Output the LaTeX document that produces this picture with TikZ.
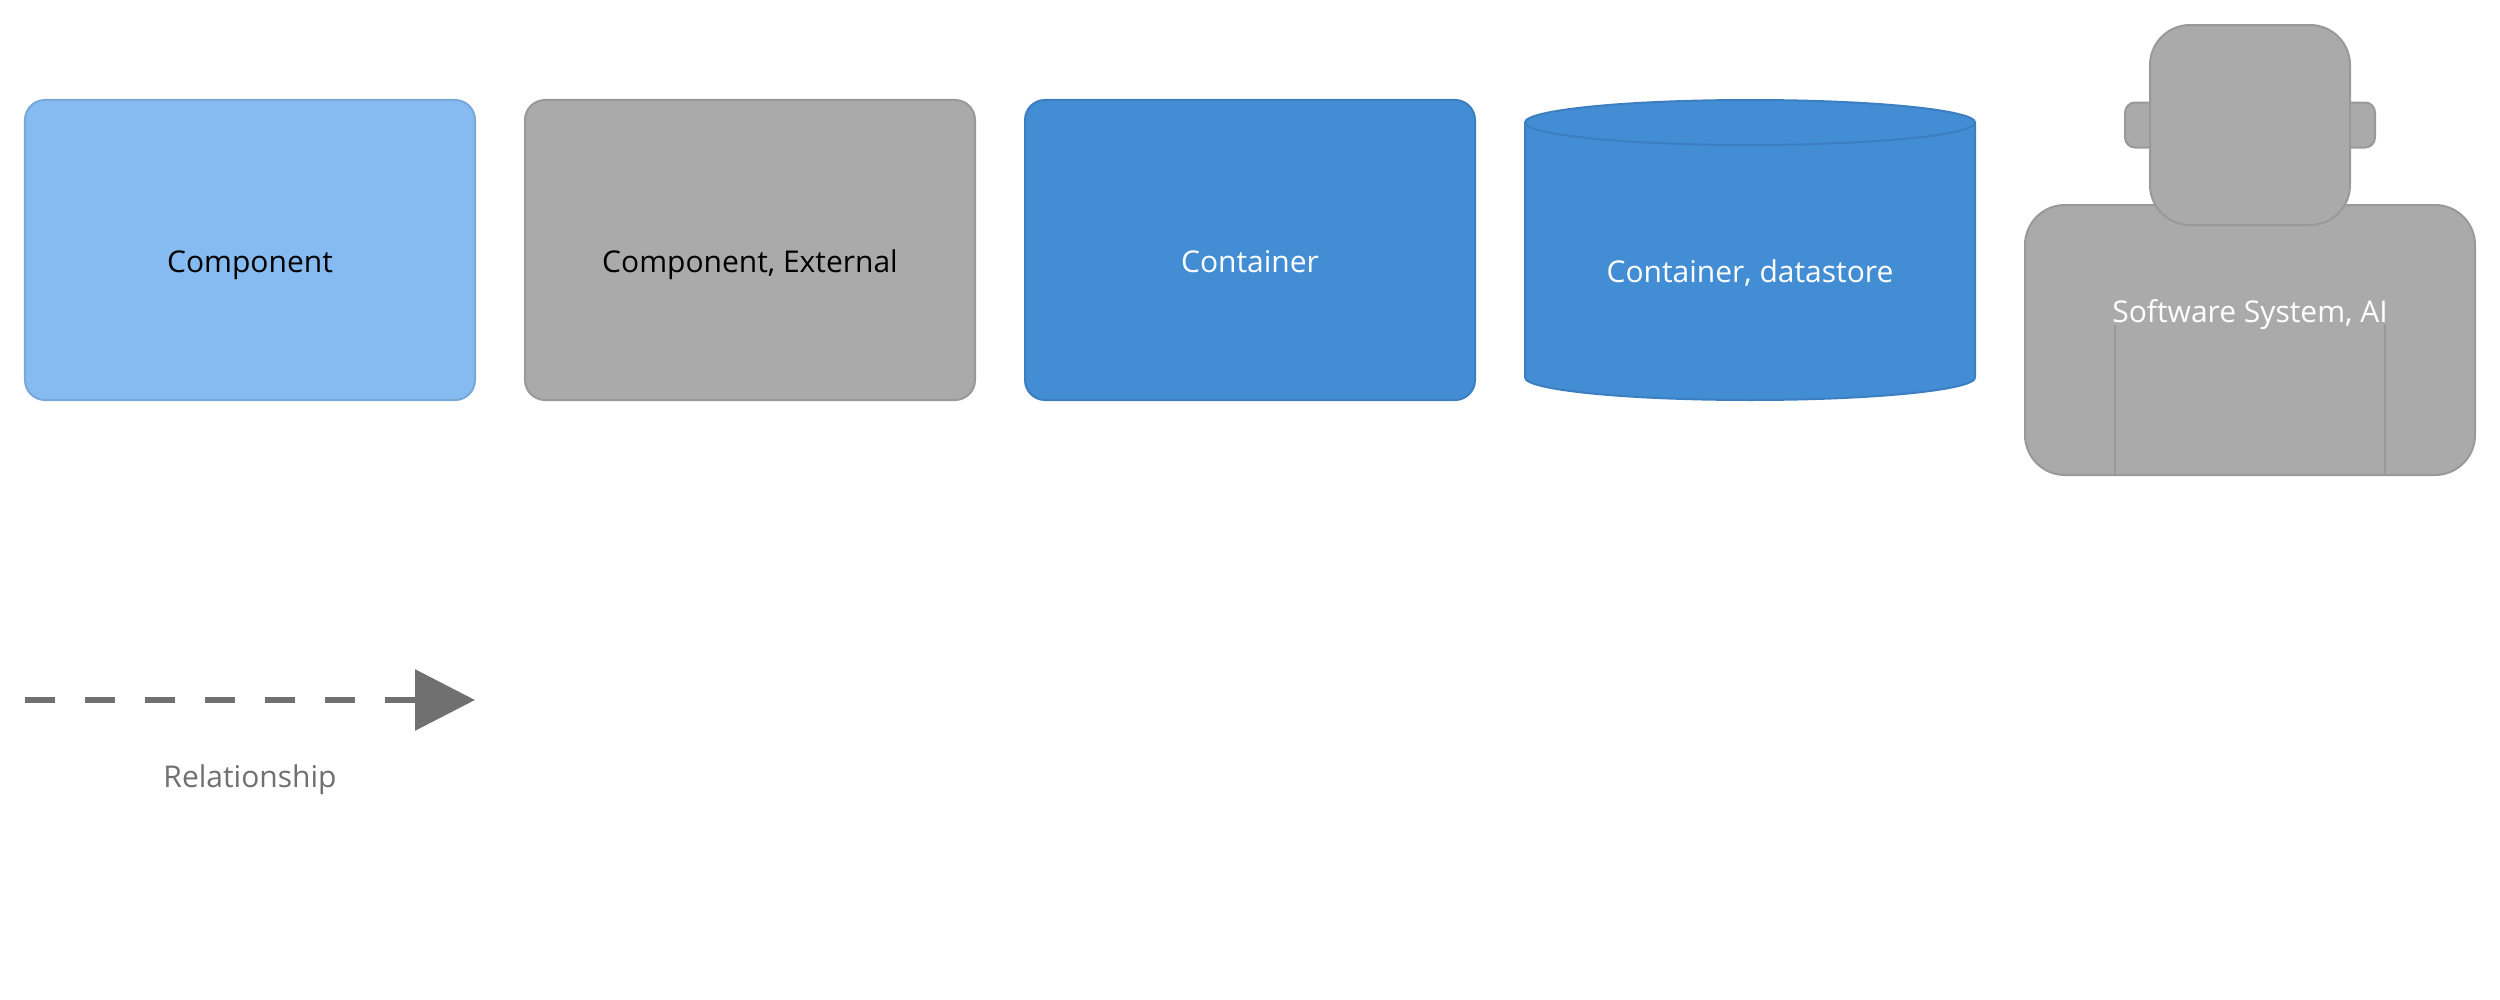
\documentclass[tikz,border=0pt]{standalone}
\usepackage{fontspec}
\setmainfont{Open Sans}
\usetikzlibrary{arrows.meta}
\definecolor{compfill}{HTML}{85BBF0}
\definecolor{compline}{HTML}{78A8D8}
\definecolor{extfill}{HTML}{AAAAAA}
\definecolor{extline}{HTML}{999999}
\definecolor{contfill}{HTML}{438DD5}
\definecolor{contline}{HTML}{3C7FC0}
\definecolor{relcolor}{HTML}{707070}
\tikzset{
  card/.style={rectangle,rounded corners=8pt,minimum width=180pt,minimum height=120pt,inner sep=0pt,line width=0.8pt},
  compcard/.style={card,fill=compfill,draw=compline},
  extcard/.style={card,fill=extfill,draw=extline},
  contcard/.style={card,fill=contfill,draw=contline},
  caption/.style={anchor=base,inner sep=0pt,font=\fontsize{12pt}{14pt}\selectfont},
  robot/.style={fill=extfill,draw=extline,line width=0.8pt},
  cyl/.style={fill=contfill,draw=contline,line width=0.8pt},
  rel/.style={draw=relcolor,line width=2.4pt,dash pattern=on 12pt off 12pt,-{Triangle[length=24pt,width=24pt,fill=relcolor]}},
}
\begin{document}
\begin{tikzpicture}[x=0.4pt,y=-0.4pt]
\useasboundingbox (0,0) rectangle (2500,1000);
% rounded cards
\node[compcard] (component) at (250,250) {};
\node[extcard] (external) at (750,250) {};
\node[contcard] (container) at (1250,250) {};
\node[caption,text=black] (componentText) at (250,272) {Component};
\node[caption,text=black] (externalText) at (750,272) {Component, External};
\node[caption,text=white] (containerText) at (1250,272) {Container};
% datastore
\path[cyl] (1525,122.5) arc[start angle=180,end angle=360,x radius=225,y radius=22.5]
  -- (1975,377.5) arc[start angle=0,end angle=180,x radius=225,y radius=22.5] -- cycle;
\draw[contline,line width=0.8pt] (1525,122.5) arc[start angle=180,end angle=0,x radius=225,y radius=22.5];
\node[caption,text=white] (datastoreText) at (1750,282) {Container, datastore};
% AI system
\draw[robot,rounded corners=4pt] (2125,102.5) rectangle (2375,147.5);
\draw[robot,rounded corners=16pt] (2025,205) rectangle (2475,475);
\draw[extline,line width=0.8pt] (2115,325) -- (2115,475);
\draw[extline,line width=0.8pt] (2385,325) -- (2385,475);
\draw[robot,rounded corners=16pt] (2150,25) rectangle (2350,225);
\node[caption,text=white] (aiText) at (2250,322) {Software System, AI};
% relationship
\coordinate (relStart) at (25,700);
\coordinate (relEnd) at (475,700);
\draw[rel] (relStart) -- (relEnd);
\node[caption,text=relcolor] (relText) at (250,787) {Relationship};
\end{tikzpicture}
\end{document}
